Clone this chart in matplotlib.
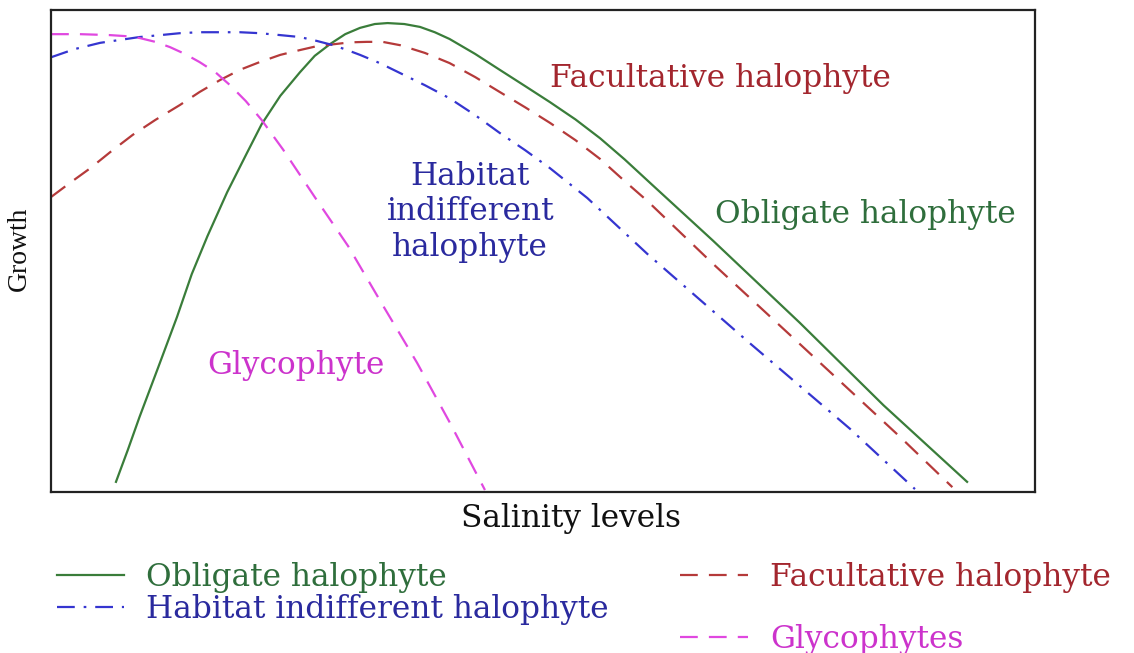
import matplotlib.pyplot as plt

plt.rcParams['font.family'] = 'DejaVu Serif'

# salinity (x) vs growth (y), both on an arbitrary 0-100 scale
obligate_x = [6.6, 7.8, 9.0, 10.9, 12.8, 14.3, 15.9, 17.9, 19.9, 21.4, 23.3, 25.3,
              26.8, 28.4, 29.9, 31.4, 32.9, 34.2, 35.9, 37.5, 39.0, 40.5, 43.1, 45.6,
              48.2, 50.7, 53.3, 55.8, 58.3, 60.9, 67.3, 76.1, 84.6, 93.1]
obligate_y = [2.1, 8.7, 15.6, 25.9, 36.3, 45.2, 53.1, 62.2, 70.3, 76.3, 82.2, 87.1,
              90.5, 93.0, 95.0, 96.3, 97.1, 97.3, 97.1, 96.5, 95.4, 94.0, 90.9, 87.6,
              84.2, 80.9, 77.3, 73.4, 69.0, 64.1, 52.1, 35.1, 18.0, 2.1]

facultative_x = [0.0, 1.9, 4.0, 6.0, 8.3, 10.6, 13.1, 15.1, 17.2, 19.2, 21.2, 23.3,
                 25.3, 27.0, 28.7, 30.4, 32.1, 33.7, 35.5, 38.0, 40.5, 43.1, 45.6, 48.2,
                 50.7, 53.3, 55.8, 58.3, 60.6, 67.3, 76.1, 86.3, 91.6]
facultative_y = [61.2, 64.1, 67.2, 70.5, 74.1, 77.2, 80.3, 83.0, 85.5, 87.6, 89.2, 90.7,
                 91.7, 92.5, 92.9, 93.3, 93.4, 93.4, 92.7, 91.1, 89.0, 86.1, 83.0, 79.8,
                 76.6, 73.0, 69.1, 64.5, 60.4, 47.3, 30.7, 11.4, 1.0]

habitat_x = [0.0, 2.4, 5.0, 7.0, 9.0, 11.1, 13.1, 15.1, 17.2, 19.2, 21.2, 23.3,
             25.3, 27.0, 28.7, 30.1, 31.4, 33.4, 35.5, 38.0, 40.5, 43.1, 45.6, 48.2,
             50.7, 54.5, 60.6, 71.0, 81.2, 87.8]
habitat_y = [90.2, 91.9, 93.2, 93.8, 94.4, 94.8, 95.2, 95.4, 95.4, 95.4, 95.2, 94.8,
             94.4, 93.6, 92.7, 91.7, 90.7, 89.0, 86.9, 84.4, 81.7, 78.2, 74.5, 70.9,
             67.2, 61.0, 49.4, 30.9, 13.1, 0.6]

glyco_x = [0.0, 2.9, 6.0, 7.5, 9.0, 10.6, 12.1, 13.6, 15.1, 16.7, 18.2, 19.8,
           21.4, 23.6, 26.8, 30.2, 33.7, 37.2, 40.5, 44.1]
glyco_y = [95.0, 95.0, 94.8, 94.6, 94.2, 93.4, 92.3, 90.9, 89.2, 87.1, 84.4, 81.1,
           77.2, 71.0, 61.2, 51.0, 38.8, 26.8, 14.5, 0.4]

green, green_txt = '#3a7d3a', '#2f6e3c'
red, red_txt = '#b53a3a', '#a3262e'
blue, blue_txt = '#3535d0', '#2a2a9e'
pink, pink_txt = '#e048e0', '#cc33cc'

fig = plt.figure(figsize=(11.34, 6.53), dpi=100)
ax = fig.add_axes([0.045, 0.2466, 0.8677, 0.738])

l_obl, = ax.plot(obligate_x, obligate_y, color=green, lw=1.6,
                 label='Obligate halophyte')
l_fac, = ax.plot(facultative_x, facultative_y, color=red, lw=1.6,
                 dashes=(8, 5), label='Facultative halophyte')
l_hab, = ax.plot(habitat_x, habitat_y, color=blue, lw=1.6,
                 dashes=(8, 4, 1.2, 4), label='Habitat indifferent halophyte')
l_gly, = ax.plot(glyco_x, glyco_y, color=pink, lw=1.6,
                 dashes=(8, 5), label='Glycophytes')

ax.set_xlim(0, 100)
ax.set_ylim(0, 100)
ax.set_xticks([])
ax.set_yticks([])
for s in ax.spines.values():
    s.set_linewidth(1.6)
    s.set_color('#222222')

fs = 22.5
ax.text(68.0, 85.9, 'Facultative halophyte', color=red_txt, fontsize=fs,
        ha='center', va='center')
ax.text(67.5, 57.5, 'Obligate halophyte', color=green_txt, fontsize=fs,
        ha='left', va='center')
ax.text(42.6, 58.1, 'Habitat\nindifferent\nhalophyte', color=blue_txt, fontsize=fs,
        ha='center', va='center', linespacing=1.2)
ax.text(24.9, 26.3, 'Glycophyte', color=pink_txt, fontsize=fs,
        ha='center', va='center')

ax.set_xlabel('Salinity levels', fontsize=fs, color='#111111')
ax.xaxis.set_label_coords(0.528, -0.022)
ax.set_ylabel('Growth', fontsize=20, family='Liberation Serif', color='#111111')
ax.yaxis.set_label_coords(-0.019, 0.505)

# legend in two blocks under the plot
leg_kw = dict(loc='upper left', bbox_transform=fig.transFigure, frameon=False,
              borderpad=0, borderaxespad=0, handlelength=2.15, handletextpad=0.72,
              fontsize=fs)
leg1 = ax.legend(handles=[l_obl, l_hab], bbox_to_anchor=(0.050, 0.139),
                 labelspacing=0.02, **leg_kw)
for t, c in zip(leg1.get_texts(), [green_txt, blue_txt]):
    t.set_color(c)
ax.add_artist(leg1)
leg2 = ax.legend(handles=[l_fac, l_gly], bbox_to_anchor=(0.600, 0.139),
                 labelspacing=0.97, **leg_kw)
for t, c in zip(leg2.get_texts(), [red_txt, pink_txt]):
    t.set_color(c)

fig.savefig('out.png', dpi=100)
